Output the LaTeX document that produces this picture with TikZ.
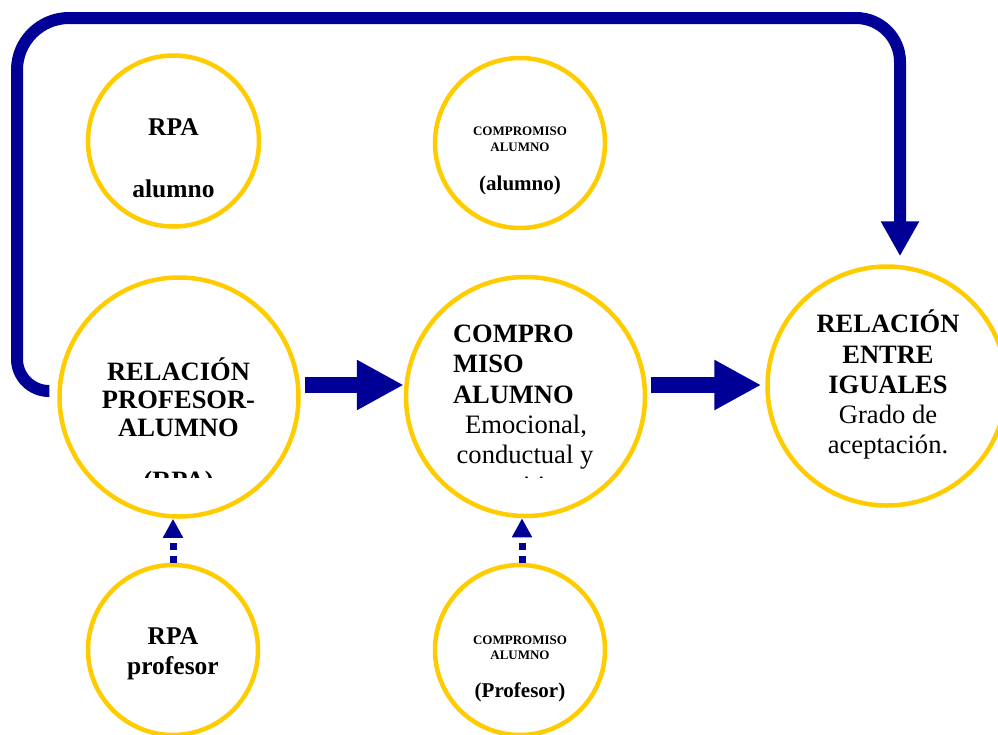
\documentclass[tikz,border=0pt]{standalone}
\usepackage{fontspec}
\setmainfont{Liberation Serif}
\usetikzlibrary{arrows.meta}
\definecolor{ringyellow}{RGB}{255,204,0}
\definecolor{flownavy}{RGB}{0,0,150}
\begin{document}
\begin{tikzpicture}[x=1pt,y=-1pt,
  ring/.style={circle, draw=ringyellow, line width=4.5pt, inner sep=0pt, minimum size=#1},
  txt/.style={anchor=base, inner sep=0pt, outer sep=0pt},
  headb/.style={txt, font=\fontsize{26.5}{30}\selectfont\bfseries},
  plainr/.style={txt, font=\fontsize{26.6}{30}\selectfont},
  rpab/.style={txt, font=\fontsize{25.5}{30}\selectfont\bfseries},
  smallb/.style={txt, font=\fontsize{13}{15}\selectfont\bfseries},
  parenb/.style={txt, font=\fontsize{21}{24}\selectfont\bfseries},
  blockarrow/.style={draw=flownavy, line width=16pt, -{Triangle[length=47pt,width=47pt]}},
  looparrow/.style={draw=flownavy, line width=12pt, -{Triangle[length=35pt,width=36pt]}},
  dotarrow/.style={draw=flownavy, line width=7pt, dash pattern=on 7pt off 6pt,
    -{Triangle[length=19pt,width=19pt]}}
]
\useasboundingbox (0,0) rectangle (998,734);
\fill[white] (0,0) rectangle (998,734);

% circles
\node[ring=171pt] (c1) at (173.5,141) {};
\node[ring=170pt] (c2) at (520,143) {};
\node[ring=239pt] (c3) at (179,397) {};
\node[ring=239pt] (c4) at (525.5,396.5) {};
\node[ring=239pt] (c5) at (887,386) {};
\node[ring=170pt] (c6) at (173,650) {};
\node[ring=170pt] (c7) at (520,650) {};

% RPA alumno
\node[rpab] (t1a) at (173.5,135) {RPA};
\node[rpab] (t1b) at (173.5,197) {alumno};

% compromiso (alumno)
\node[smallb] (t2a) at (520,135) {COMPROMISO};
\node[smallb] (t2b) at (520,151) {ALUMNO};
\node[parenb] (t2c) at (520,190) {(alumno)};

% relacion profesor-alumno
\node[headb] (t3a) at (178.5,380) {RELACIÓN};
\node[headb] (t3b) at (178.5,408) {PROFESOR-};
\node[headb] (t3c) at (178.5,436) {ALUMNO};
\begin{scope}
  \clip (0,0) rectangle (998,477.5);
  \node[headb] (t3d) at (178.5,489) {(RPA)};
  \node[plainr] (t4f) at (525,494) {cognitivo.};
\end{scope}

% compromiso alumno
\node[headb, anchor=base west] (t4a) at (453,342) {COMPRO};
\node[headb, anchor=base west] (t4b) at (453,372) {MISO};
\node[headb, anchor=base west] (t4c) at (453,403) {ALUMNO};
\node[plainr] (t4d) at (526,433) {Emocional,};
\node[plainr] (t4e) at (525,463) {conductual y};

% relacion entre iguales
\node[headb] (t5a) at (888,332) {RELACIÓN};
\node[headb] (t5b) at (888,363) {ENTRE};
\node[headb] (t5c) at (888,393) {IGUALES};
\node[plainr] (t5d) at (888,423) {Grado de};
\node[plainr] (t5e) at (888,453) {aceptación.};

% RPA profesor
\node[rpab] (t6a) at (173,644) {RPA};
\node[rpab] (t6b) at (173,674) {profesor};

% compromiso (profesor)
\node[smallb] (t7a) at (520,644) {COMPROMISO};
\node[smallb] (t7b) at (520,659) {ALUMNO};
\node[parenb] (t7c) at (520,697) {(Profesor)};

% main flow arrows
\path ([shift={(4pt,12pt)}]c3.east) coordinate (a1s);
\draw[blockarrow] (a1s) -- (a1s -| c4.west);
\path ([shift={(4pt,11.5pt)}]c4.east) coordinate (a2s);
\path ([xshift=-4pt]c5.west) coordinate (a2e);
\draw[blockarrow] (a2s) -- (a2s -| a2e);

% feedback loop over the top
\coordinate (tl) at (17,18);
\coordinate (tr) at (900,18);
\path ([shift={(-8pt,6pt)}]c3.west) coordinate (ls);
\path ([yshift=8pt]c5.north) coordinate (c5top);
\draw[looparrow] (ls) [rounded corners=32pt] -- (ls -| tl) [rounded corners=52pt] -- (tl)
  [rounded corners=44pt] -- (tr) -- (tr |- c5top);

% dotted influences
\draw[dotarrow] (c6.north) -- (c6.north |- c3.south);
\draw[dotarrow] ([xshift=2pt]c7.north) -- ([xshift=2pt]c7.north |- c4.south);
\end{tikzpicture}
\end{document}
